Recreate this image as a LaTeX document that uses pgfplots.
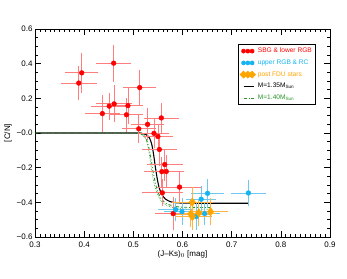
\documentclass[border=0pt]{standalone}
\usepackage{pgfplots}
\pgfplotsset{compat=1.18}
\usepackage{pgfplotstable}
\usepackage{fontspec}
\setmainfont{Liberation Sans}
\definecolor{myred}{RGB}{255,0,0}
\definecolor{myredl}{RGB}{255,125,125}
\definecolor{myblue}{RGB}{20,180,240}
\definecolor{mybluel}{RGB}{110,200,240}
\definecolor{myorange}{RGB}{255,165,0}
\definecolor{myorangel}{RGB}{255,180,70}
\definecolor{mygreen}{RGB}{40,150,40}
\pgfplotstableread{
x y ex ey
0.389 0.288 0.030 0.080
0.395 0.347 0.028 0.100
0.460 0.403 0.030 0.090
0.513 0.262 0.027 0.087
0.437 0.112 0.030 0.090
0.451 0.155 0.030 0.060
0.461 0.168 0.030 0.090
0.489 0.158 0.025 0.090
0.486 0.105 0.028 0.080
0.511 0.024 0.028 0.065
0.529 0.050 0.028 0.075
0.557 0.087 0.030 0.070
0.542 -0.002 0.025 0.070
0.550 -0.020 0.025 0.050
0.553 -0.095 0.030 0.080
0.564 -0.182 0.030 0.075
0.558 -0.223 0.030 0.070
0.567 -0.222 0.030 0.080
0.594 -0.312 0.040 0.070
0.559 -0.345 0.035 0.060
0.581 -0.465 0.030 0.080
}\redtab
\pgfplotstableread{
x y ex ey
0.734 -0.346 0.030 0.060
0.651 -0.348 0.028 0.065
0.638 -0.382 0.025 0.060
0.586 -0.442 0.030 0.050
0.599 -0.454 0.030 0.060
0.628 -0.482 0.025 0.060
0.645 -0.465 0.025 0.050
}\bluetab
\pgfplotstableread{
x y ex ey
0.620 -0.399 0.035 0.070
0.617 -0.467 0.030 0.060
0.620 -0.482 0.030 0.060
0.633 -0.461 0.030 0.060
0.657 -0.454 0.030 0.060
}\orangetab
\begin{document}
\begin{tikzpicture}
\useasboundingbox (0,0) rectangle (347pt,278pt);
\begin{axis}[
  at={(35pt,41pt)}, anchor=south west,
  width=295pt, height=208pt, scale only axis,
  xmin=0.3, xmax=0.9, ymin=-0.6, ymax=0.6,
  xtick={0.3,0.4,...,0.9},
  ytick={-0.6,-0.4,-0.2,0,0.2,0.4,0.6},
  yticklabels={−0.6,−0.4,−0.2,−0.0,0.2,0.4,0.6},
  minor x tick num=9, minor y tick num=3,
  tick align=inside, tick pos=both,
  major tick length=6pt, minor tick length=3pt,
  tick style={black, line width=0.5pt},
  axis line style={line width=0.6pt},
  /pgf/number format/assume math mode=true,
  /pgf/number format/.cd, fixed, fixed zerofill, precision=1, /pgfplots/.cd,
  ticklabel style={font=\fontsize{8}{9}\selectfont},
  xticklabel style={yshift=-1pt},
  yticklabel style={xshift=1pt},
  xlabel={(J–Ks)$_{0}$ [mag]},
  ylabel={[C/N]},
  label style={font=\fontsize{8}{9}\selectfont},
  xlabel style={yshift=3pt},
  ylabel style={yshift=-2pt},
  clip=false,
  legend style={at={(0.688,0.927)}, anchor=north west, font=\fontsize{6.6}{7.5}\selectfont,
     draw=black, line width=0.6pt, row sep=1.6pt, inner sep=1.5pt, cells={anchor=west}},
]
% model curves
\addplot[black, line width=1.1pt, smooth, forget plot] coordinates {
(0.30,0) (0.50,0) (0.515,-0.002) (0.525,-0.008) (0.532,-0.025) (0.537,-0.06)
(0.541,-0.12) (0.545,-0.20) (0.549,-0.27) (0.553,-0.32) (0.558,-0.355)
(0.565,-0.38) (0.575,-0.396) (0.59,-0.403) (0.62,-0.405) (0.735,-0.405)};
\addplot[mygreen, line width=0.9pt, dash dot, smooth, forget plot] coordinates {
(0.30,0) (0.50,0) (0.51,-0.003) (0.52,-0.012) (0.527,-0.04) (0.532,-0.09)
(0.536,-0.15) (0.540,-0.22) (0.545,-0.29) (0.550,-0.34) (0.557,-0.38)
(0.566,-0.405) (0.58,-0.42) (0.60,-0.428) (0.66,-0.43)};
\addplot[mygreen, line width=0.6pt, densely dotted, smooth, forget plot] coordinates {
(0.52,-0.005) (0.525,-0.03) (0.530,-0.08) (0.534,-0.15) (0.538,-0.23)
(0.543,-0.30) (0.549,-0.35) (0.556,-0.39) (0.566,-0.415) (0.58,-0.43) (0.60,-0.438) (0.655,-0.44)};
% data
\addplot[forget plot, only marks, mark=*, mark size=2.4pt, color=myred,
  error bars/.cd, x dir=both, x explicit, y dir=both, y explicit,
  error bar style={myredl, line width=0.8pt},
  error mark options={myredl, mark size=3pt, line width=0.8pt}]
  table[x=x, y=y, x error=ex, y error=ey] {\redtab};
\addplot[forget plot, only marks, mark=*, mark size=2.4pt, color=myblue,
  error bars/.cd, x dir=both, x explicit, y dir=both, y explicit,
  error bar style={mybluel, line width=0.8pt},
  error mark options={mybluel, mark size=3pt, line width=0.8pt}]
  table[x=x, y=y, x error=ex, y error=ey] {\bluetab};
\addplot[forget plot, only marks, mark=diamond*, mark size=4.2pt, color=myorange,
  error bars/.cd, x dir=both, x explicit, y dir=both, y explicit,
  error bar style={myorangel, line width=0.8pt},
  error mark options={myorangel, mark size=3pt, line width=0.8pt}]
  table[x=x, y=y, x error=ex, y error=ey] {\orangetab};
% legend
\addlegendimage{legend image code/.code={\foreach \i in {0.05,0.2,0.35}{\fill[myred] (\i cm,0) circle (2pt);}}}
\addlegendentry{\textcolor{myred}{SBG \& lower RGB}}
\addlegendimage{legend image code/.code={\foreach \i in {0.05,0.2,0.35}{\fill[myblue] (\i cm,0) circle (2pt);}}}
\addlegendentry{\textcolor{myblue}{upper RGB \& RC}}
\addlegendimage{legend image code/.code={\foreach \i in {0.05,0.2,0.35}{\fill[myorange] (\i cm,3.5pt) -- (\i cm+3.5pt,0) -- (\i cm,-3.5pt) -- (\i cm-3.5pt,0) -- cycle;}}}
\addlegendentry{\textcolor{myorange}{post FDU stars}}
\addlegendimage{legend image code/.code={\draw[black, line width=0.9pt] (0.05cm,0) -- (0.4cm,0);}}
\addlegendentry{M=1.35M$_{\mathrm{Sun}}$}
\addlegendimage{legend image code/.code={\draw[mygreen, line width=0.9pt, dash dot] (0.05cm,0) -- (0.4cm,0);}}
\addlegendentry{\textcolor{mygreen}{M=1.40M$_{\mathrm{Sun}}$}}
\end{axis}
\end{tikzpicture}
\end{document}
